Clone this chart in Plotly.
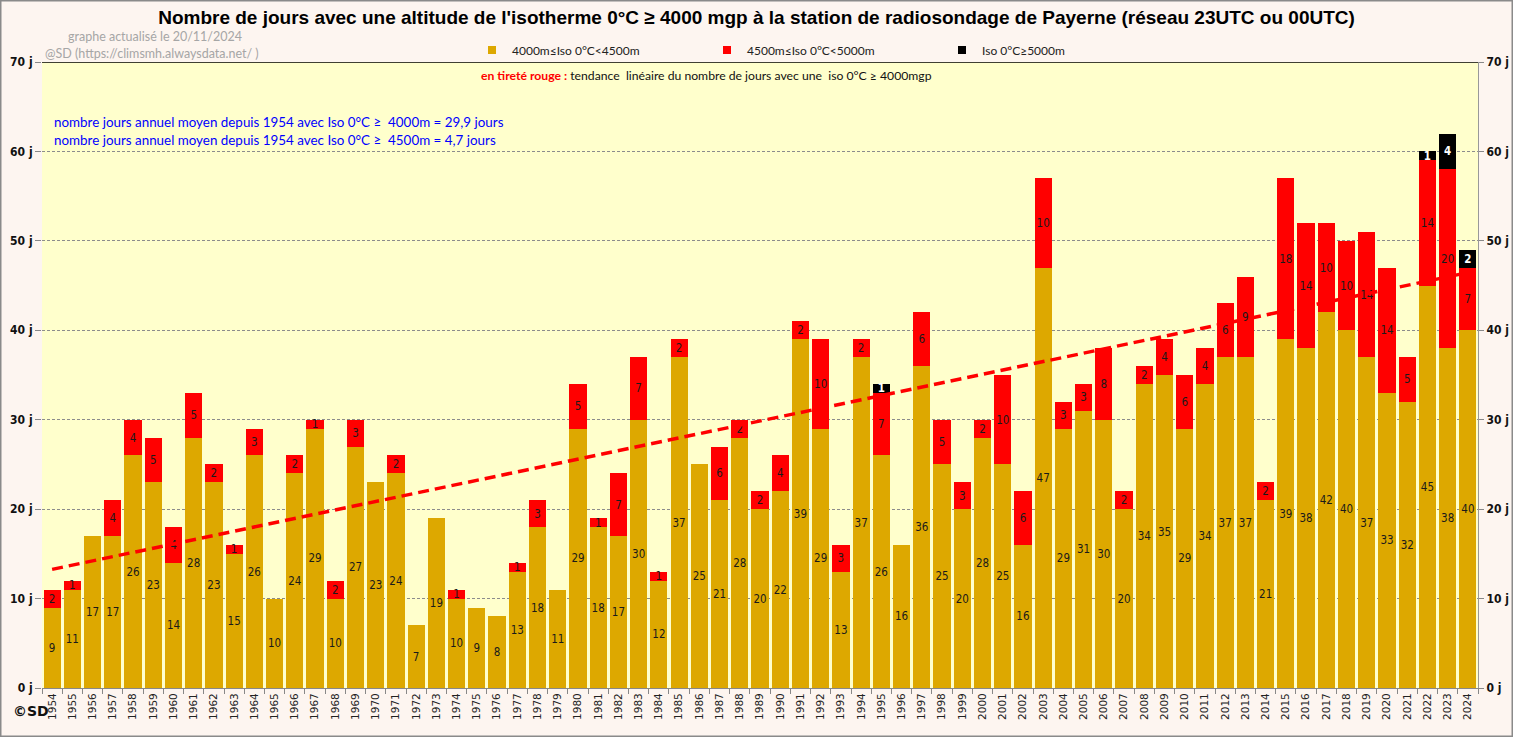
import numpy as np
import plotly.graph_objects as go

years = list(range(1954, 2025))
gold = [9, 11, 17, 17, 26, 23, 14, 28, 23, 15, 26, 10, 24, 29, 10, 27, 23, 24, 7, 19,
        10, 9, 8, 13, 18, 11, 29, 18, 17, 30, 12, 37, 25, 21, 28, 20, 22, 39, 29, 13,
        37, 26, 16, 36, 25, 20, 28, 25, 16, 47, 29, 31, 30, 20, 34, 35, 29, 34, 37, 37,
        21, 39, 38, 42, 40, 37, 33, 32, 45, 38, 40]
red = [2, 1, 0, 4, 4, 5, 4, 5, 2, 1, 3, 0, 2, 1, 2, 3, 0, 2, 0, 0,
       1, 0, 0, 1, 3, 0, 5, 1, 7, 7, 1, 2, 0, 6, 2, 2, 4, 2, 10, 3,
       2, 7, 0, 6, 5, 3, 2, 10, 6, 10, 3, 3, 8, 2, 2, 4, 6, 4, 6, 9,
       2, 18, 14, 10, 10, 14, 14, 5, 14, 20, 7]
black = [0] * 71
black[years.index(1995)] = 1
black[years.index(2022)] = 1
black[years.index(2023)] = 4
black[years.index(2024)] = 2

series_names = ["4000m≤Iso 0°C<4500m", "4500m≤Iso 0°C<5000m", "Iso 0°C≥5000m"]
series_colors = ["#DDA800", "#FF0000", "#000000"]
y_ticks = [0, 10, 20, 30, 40, 50, 60, 70]
y_ticktext = [f"{v} j" for v in y_ticks]

cats = [str(y) for y in years]
totals = np.array(gold) + np.array(red) + np.array(black)
idx = np.arange(len(years))
slope, intercept = np.polyfit(idx, totals, 1)
trend = slope * idx + intercept

# plot area geometry (pixels)
L, R, T, B = 42, 35, 62, 49
W, H = 1513, 737
PW, PH = W - L - R, H - T - B


def px(xp):
    return (xp - L) / PW


def py(yp):
    return (H - B - yp) / PH


LABEL_FONT = "DejaVu Sans Condensed, DejaVu Sans, sans-serif"
TEXT_FONT = "Lato, Open Sans, sans-serif"

fig = go.Figure()
for vals, name, col, tcol in zip([gold, red, black], series_names, series_colors,
                                 ["#1A1A1A", "#1A1A1A", "#FFFFFF"]):
    fig.add_trace(go.Bar(
        x=cats, y=vals, name=name, showlegend=False,
        marker=dict(color=col, line=dict(width=0)),
        text=[str(v) if v else "" for v in vals],
        textposition="inside", insidetextanchor="middle", textangle=0,
        textfont=dict(family=LABEL_FONT, size=11.5, color=tcol,
                      weight="bold" if col == "#000000" else "normal"),
    ))

fig.add_trace(go.Scatter(
    x=cats, y=trend, mode="lines", showlegend=False,
    line=dict(color="#FF0000", width=3.5, dash="11px,6px"),
))
# legend keys (small squares like the original)
for name, col in zip(series_names, series_colors):
    fig.add_trace(go.Scatter(
        x=[None], y=[None], mode="markers", name=name,
        marker=dict(symbol="square", size=8, color=col),
    ))
fig.add_trace(go.Scatter(x=[cats[0]], y=[0], yaxis="y2", mode="markers",
                         marker=dict(opacity=0), showlegend=False))

fig.update_layout(
    width=W, height=H,
    margin=dict(l=L, r=R, t=T, b=B),
    paper_bgcolor="#FDF5F0",
    plot_bgcolor="#FFFFCC",
    barmode="stack",
    bargap=0.15,
    hovermode=False,
    uniformtext=dict(minsize=11.5, mode="show"),
    title=dict(
        text="Nombre de jours avec une altitude de l'isotherme 0°C ≥ 4000 mgp à la station de radiosondage de Payerne (réseau 23UTC ou 00UTC)",
        x=0.5, xanchor="center", y=1 - 17 / H, yanchor="middle",
        font=dict(family="Liberation Sans Narrow, Arial Narrow, Liberation Sans, sans-serif",
                  size=19, color="#000000", weight="bold"),
    ),
    legend=dict(
        orientation="h", x=px(472), xanchor="left", y=py(50), yanchor="middle",
        entrywidth=190, entrywidthmode="pixels", itemwidth=30,
        font=dict(family=TEXT_FONT, size=12, color="#222222"),
        bgcolor="rgba(0,0,0,0)", traceorder="normal",
    ),
    xaxis=dict(
        type="category", tickangle=-90, ticks="outside", tickson="boundaries",
        ticklen=5, tickcolor="#888888", showline=True, linecolor="#888888",
        tickfont=dict(family="DejaVu Sans, sans-serif", size=10.5, color="#222222"),
        showgrid=False, range=[-0.5, len(cats) - 0.5], automargin=False,
    ),
    yaxis=dict(
        range=[0, 70], tickvals=y_ticks, ticktext=y_ticktext,
        ticks="outside", ticklen=6, tickcolor="#888888",
        tickfont=dict(family=LABEL_FONT, size=12, color="#111111", weight="bold"),
        showgrid=True, gridcolor="#8C8C8C", griddash="3px,2px", gridwidth=1,
        zeroline=False, showline=False, automargin=False,
    ),
    yaxis2=dict(
        range=[0, 70], tickvals=y_ticks, ticktext=y_ticktext, overlaying="y",
        side="right", ticks="outside", ticklen=5, tickcolor="#888888",
        tickfont=dict(family=LABEL_FONT, size=12, color="#111111", weight="bold"),
        showgrid=False, zeroline=False, showline=True, linecolor="#999999",
        automargin=False, ticklabeloverflow="allow",
    ),
    shapes=[
        dict(type="line", xref="paper", yref="y", x0=0, x1=1, y0=70, y1=70,
             line=dict(color="#000000", width=1.5)),
        dict(type="rect", xref="paper", yref="paper",
             x0=px(0.75), x1=px(W - 0.75), y0=py(H - 0.75), y1=py(0.75),
             line=dict(color="#8A8A8A", width=1.5)),
    ],
    annotations=[
        dict(text="graphe actualisé le 20/11/2024", xref="paper", yref="paper",
             x=px(66), y=py(37), xanchor="left", yanchor="middle", showarrow=False,
             font=dict(family=TEXT_FONT, size=12.5, color="#A6A6A6")),
        dict(text="@SD (https://climsmh.alwaysdata.net/ )", xref="paper", yref="paper",
             x=px(43), y=py(53), xanchor="left", yanchor="middle", showarrow=False,
             font=dict(family=TEXT_FONT, size=12.5, color="#A6A6A6")),
        dict(text="<span style='color:#FF0000'><b>en tireté rouge :</b></span> tendance  linéaire du nombre de jours avec une  iso 0°C ≥ 4000mgp",
             xref="paper", yref="paper", x=px(479), y=py(76), xanchor="left", yanchor="middle",
             showarrow=False, font=dict(family=TEXT_FONT, size=12.2, color="#111111")),
        dict(text="nombre jours annuel moyen depuis 1954 avec Iso 0°C ≥  4000m = 29,9 jours",
             xref="paper", yref="paper", x=px(52), y=py(122), xanchor="left", yanchor="middle",
             showarrow=False, font=dict(family=TEXT_FONT, size=13.4, color="#0000FF")),
        dict(text="nombre jours annuel moyen depuis 1954 avec Iso 0°C ≥  4500m = 4,7 jours",
             xref="paper", yref="paper", x=px(52), y=py(140), xanchor="left", yanchor="middle",
             showarrow=False, font=dict(family=TEXT_FONT, size=13.4, color="#0000FF")),
        dict(text="<b>©SD</b>", xref="paper", yref="paper",
             x=px(11), y=py(711), xanchor="left", yanchor="middle", showarrow=False,
             font=dict(family="DejaVu Sans, sans-serif", size=14, color="#111111")),
    ],
)

fig.write_html("out.html",
               config={"displayModeBar": False},
               post_script="document.body.style.margin='0';document.body.style.padding='0';")
